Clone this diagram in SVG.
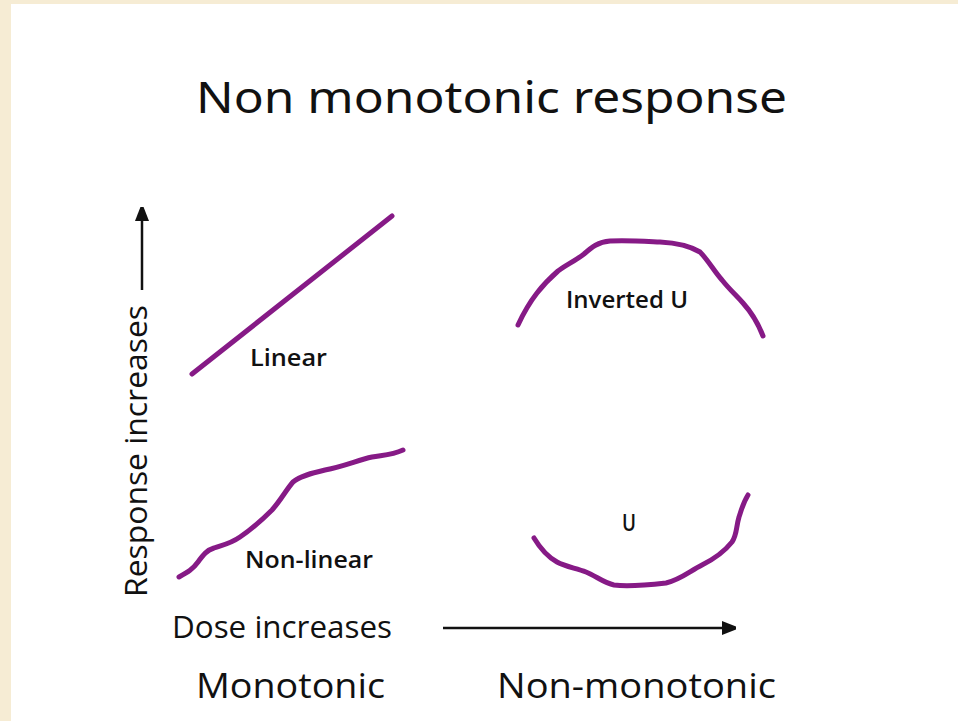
<svg xmlns="http://www.w3.org/2000/svg" width="958" height="721" viewBox="0 0 958 721">
<defs>
<marker id="ah" markerWidth="10" markerHeight="8" refX="9" refY="4" orient="auto" markerUnits="userSpaceOnUse">
<path d="M0,0 L10,4 L0,8 Z" fill="#111"/>
</marker>
<marker id="ahv" markerWidth="14" markerHeight="18" refX="13" refY="7" orient="auto" markerUnits="userSpaceOnUse">
<path d="M0,0 L18,7 L0,14 Z" fill="#111"/>
</marker>
<style>
.t{font-family:"Open Sans","Noto Sans","Liberation Sans",sans-serif;fill:#111}
.ttl{font-family:"Noto Sans","Open Sans","Liberation Sans",sans-serif;fill:#111;font-size:44px}
.lbl{font-weight:600;font-size:23px}
.ax{font-size:31px}
.big{font-size:35px}
.curve{fill:none;stroke:#861a86;stroke-width:5;stroke-linecap:round;stroke-linejoin:round}
.arr{stroke:#111;stroke-width:2.5;fill:none}
</style>
</defs>
<rect x="0" y="0" width="958" height="721" fill="#f6ecd4"/>
<rect x="11" y="4" width="947" height="717" fill="#ffffff"/>

<g id="title">
<text class="ttl" x="196" y="113" textLength="591" lengthAdjust="spacingAndGlyphs">Non monotonic response</text>
</g>

<g id="y-axis-label">
<text class="t ax" transform="translate(147,597) rotate(-90)" textLength="292" lengthAdjust="spacingAndGlyphs">Response increases</text>
</g>

<g id="linear">
<path class="curve" d="M192,374 L392,216"/>
<text class="t lbl" x="250" y="366" textLength="77" lengthAdjust="spacingAndGlyphs">Linear</text>
</g>

<g id="non-linear">
<path class="curve" d="M179,577 C188,572 193,569 198,562 C203,555 207,550 214,548 C222,545 230,544 240,537 C252,529 262,520 272,510 C281,500 286,490 293,482 C300,476 312,473 325,470 C345,466 358,460 372,457 C383,455 392,455 403,450"/>
<text class="t lbl" x="245" y="568" textLength="128" lengthAdjust="spacingAndGlyphs">Non-linear</text>
</g>

<g id="inverted-u">
<path class="curve" d="M518,325 C524,312 530,302 537,293 C544,284 550,278 558,271 C566,265 575,261 584,254 C592,247 598,242 610,241 C625,240 640,241 660,242 C678,243 690,246 700,252 C708,260 714,271 722,280 C730,290 736,295 743,303 C752,313 758,323 763,336"/>
<text class="t lbl" x="566" y="308" textLength="122" lengthAdjust="spacingAndGlyphs">Inverted U</text>
</g>

<g id="u">
<path class="curve" d="M534,538 C540,548 548,557 557,562 C566,567 576,568 586,572 C596,576 604,583 614,585 C630,587 648,585 666,583 C680,580 690,571 702,565 C714,559 724,552 732,542 C737,535 736,527 739,517 C742,508 743,503 748,495"/>
<text class="t lbl" x="622" y="531" textLength="14" lengthAdjust="spacingAndGlyphs">U</text>
</g>

<g id="x-axis-label">
<text class="t ax" x="172" y="638" textLength="220" lengthAdjust="spacingAndGlyphs">Dose increases</text>
</g>

<g id="monotonic">
<text class="t big" x="196" y="698" textLength="189" lengthAdjust="spacingAndGlyphs">Monotonic</text>
</g>

<g id="non-monotonic">
<text class="t big" x="497" y="698" textLength="279" lengthAdjust="spacingAndGlyphs">Non-monotonic</text>
</g>

<g id="connectors">
<line class="arr" x1="142" y1="290" x2="142" y2="208" marker-end="url(#ahv)"/>
<line class="arr" x1="443" y1="628" x2="735" y2="628" marker-end="url(#ahv)"/>
</g>
</svg>
